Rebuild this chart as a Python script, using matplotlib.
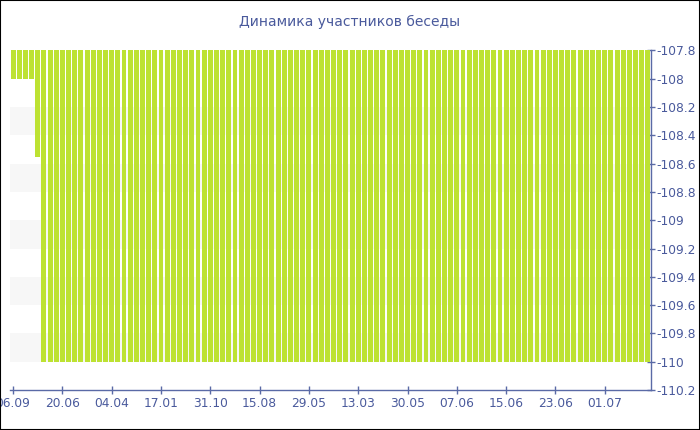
import matplotlib.pyplot as plt
from matplotlib.patches import Rectangle

title = 'Динамика участников беседы'
tick_labels = ['06.09', '20.06', '04.04', '17.01', '31.10', '15.08', '29.05',
               '13.03', '30.05', '07.06', '15.06', '23.06', '01.07']
values = [-108.0] * 4 + [-108.55] + [-110.0] * 99
y_ticks = [-107.8, -108, -108.2, -108.4, -108.6, -108.8, -109, -109.2,
           -109.4, -109.6, -109.8, -110, -110.2]

axis_col = '#5a6aa6'
text_col = '#4a5a9c'
bar_col = '#bde232'

fig = plt.figure(figsize=(7, 4.3), dpi=100)
ax = fig.add_axes([10 / 700, 1 - 390 / 430, 641 / 700, (390 - 50.4) / 430])

# alternating background bands
for k in range(2, len(y_ticks) - 2, 2):
    lo, hi = y_ticks[k + 1], y_ticks[k]
    ax.axhspan(lo, hi, color='#f7f7f7', lw=0, zorder=0)

x = list(range(len(values)))
ax.bar(x, values, width=0.8, color=bar_col, zorder=2)

ax.set_xlim(-0.5, len(values) - 0.5)
ax.set_ylim(-110.2, -107.8)
ax.set_xticks(x[::8][:len(tick_labels)])
ax.set_xticklabels(tick_labels)
ax.set_yticks(y_ticks)
ax.set_yticklabels([f'{t:g}' for t in y_ticks])

ax.yaxis.tick_right()
for s in ['top', 'left']:
    ax.spines[s].set_visible(False)
for s in ['bottom', 'right']:
    ax.spines[s].set_color(axis_col)
    ax.spines[s].set_linewidth(1)
ax.tick_params(axis='both', direction='inout', length=6, width=1, color=axis_col,
               labelcolor=text_col, labelsize=8.8, pad=2)
ax.tick_params(axis='y', pad=1)

fig.text(0.5, 1 - 22 / 430, title, ha='center', va='center', color=text_col, fontsize=10)
fig.patches.append(Rectangle((0, 0), 1, 1, transform=fig.transFigure, fill=False,
                             edgecolor='black', lw=1.5))

plt.savefig('out.png', dpi=100)
